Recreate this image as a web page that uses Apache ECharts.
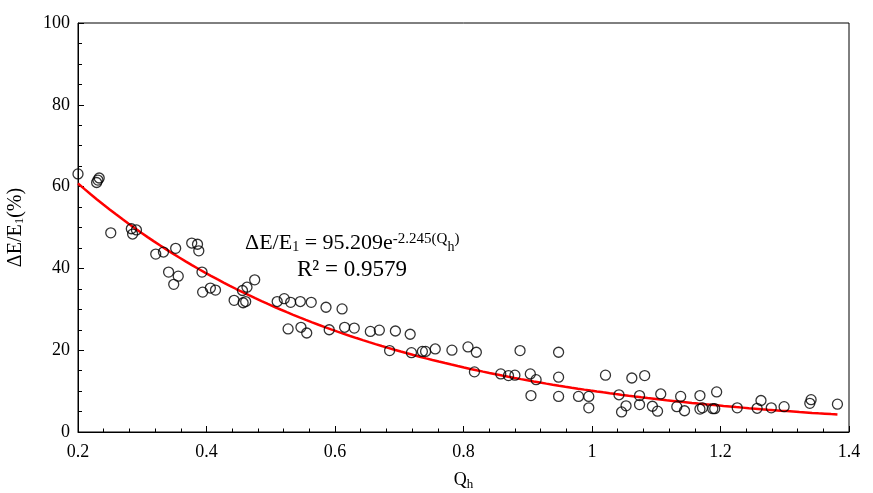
<!DOCTYPE html>
<html>
<head>
<meta charset="utf-8">
<script src="https://cdn.jsdelivr.net/npm/echarts@6/dist/echarts.min.js"></script>
<style>
html,body{margin:0;padding:0;background:#fff;}
#c{width:873px;height:493px;}
</style>
</head>
<body>
<div id="c"></div>
<script>
// Measured points (Qh, ΔE/E1 %)
const qh = [0.200,0.229,0.231,0.233,0.251,0.283,0.285,0.291,0.321,0.333,0.352,0.377,0.386,0.388,0.341,0.356,0.349,0.393,0.394,0.406,0.414,0.443,0.456,0.463,0.475,0.457,0.461,0.510,0.521,0.531,0.546,0.563,0.586,0.611,0.527,0.547,0.556,0.591,0.615,0.630,0.655,0.669,0.694,0.717,0.685,0.719,0.736,0.741,0.756,0.782,0.807,0.820,0.817,0.858,0.870,0.880,0.888,0.904,0.913,0.905,0.948,0.948,0.948,0.979,0.995,0.995,1.021,1.042,1.053,1.046,1.062,1.082,1.074,1.074,1.094,1.102,1.107,1.132,1.138,1.144,1.168,1.168,1.172,1.188,1.191,1.194,1.226,1.257,1.263,1.279,1.299,1.339,1.341,1.382];
const dE  = [63.1,61.0,61.6,62.1,48.7,49.7,48.4,49.4,43.5,44.0,44.9,46.2,45.9,44.3,39.1,38.1,36.1,39.1,34.2,35.2,34.7,32.2,34.6,35.4,37.2,31.6,31.9,31.9,32.6,31.7,31.9,31.7,30.5,30.1,25.2,25.6,24.2,25.0,25.6,25.4,24.6,24.9,24.7,23.9,19.9,19.4,19.7,19.7,20.3,20.0,20.8,19.5,14.7,14.2,13.8,13.9,19.9,14.2,12.8,8.9,19.5,13.4,8.7,8.7,8.7,5.9,13.9,9.1,6.4,4.9,13.2,13.8,8.9,6.7,6.3,5.1,9.3,6.2,8.7,5.2,8.9,5.6,5.9,5.7,5.7,9.8,5.9,5.8,7.7,5.9,6.2,7.0,7.9,6.8];
// Trendline coefficients as printed on the chart: y = A * e^(B*Qh)
const fitA = 95.209;
const fitB = -2.245;
const fitR2 = "0.9579";
const xTicks = [0.2,0.4,0.6,0.8,1,1.2,1.4];
const yTicks = [0,20,40,60,80,100];

const scatterData = qh.map((x,i)=>[x,dE[i]]);
const xMinData = Math.min(...qh), xMaxData = Math.max(...qh);
const fitData = [];
const nFit = 120;
for (let i=0;i<=nFit;i++){
  const x = xMinData + (xMaxData-xMinData)*i/nFit;
  fitData.push([x, fitA*Math.exp(fitB*x)]);
}

const serif = '"Liberation Serif","Times New Roman",serif';
const chart = echarts.init(document.getElementById('c'), null, {renderer:'canvas'});
chart.setOption({
  animation:false,
  backgroundColor:'#fff',
  grid:{left:78,right:24,top:23,bottom:61,show:true,borderColor:'#000',borderWidth:1,backgroundColor:'transparent',
        containLabel:false,outerBoundsMode:'none'},
  xAxis:{
    type:'value',min:0.2,max:1.4,interval:0.2,
    name:'Q{s|h}',nameLocation:'middle',nameGap:38,
    nameTextStyle:{fontFamily:serif,fontSize:18,color:'#000',
      rich:{s:{fontFamily:serif,fontSize:13,color:'#000',verticalAlign:'bottom',padding:[8,0,0,0]}}},
    axisLine:{show:true,lineStyle:{color:'#000',width:1}},
    axisTick:{show:true,inside:true,length:6,lineStyle:{color:'#000'}},
    minorTick:{show:true,splitNumber:5,length:3.5,lineStyle:{color:'#000'}},
    splitLine:{show:false},
    axisLabel:{fontFamily:serif,fontSize:18,color:'#000',margin:11,
      formatter:v=>{const t=xTicks.find(k=>Math.abs(k-v)<1e-6);return t===undefined?'':String(t);}}
  },
  yAxis:{
    type:'value',min:0,max:100,interval:20,
    name:'ΔE/E{s|1}(%)',nameLocation:'middle',nameGap:52,nameRotate:90,
    nameTextStyle:{fontFamily:serif,fontSize:20,color:'#000',
      rich:{s:{fontFamily:serif,fontSize:13,color:'#000',verticalAlign:'bottom',padding:[8,0,0,0]}}},
    axisLine:{show:true,lineStyle:{color:'#000',width:1}},
    axisTick:{show:true,inside:true,length:6,lineStyle:{color:'#000'}},
    minorTick:{show:true,splitNumber:4,length:4,lineStyle:{color:'#000'}},
    splitLine:{show:false},
    axisLabel:{fontFamily:serif,fontSize:18,color:'#000',margin:8,
      formatter:v=>{const t=yTicks.find(k=>Math.abs(k-v)<1e-6);return t===undefined?'':String(t);}}
  },
  series:[
    {type:'scatter',data:scatterData,symbol:'circle',symbolSize:10,
     itemStyle:{color:'rgba(255,255,255,0)',borderColor:'#000',borderWidth:1.3},z:3},
    {type:'line',data:fitData,showSymbol:false,smooth:false,
     lineStyle:{color:'#ff0000',width:2.5},z:2}
  ],
  graphic:[
    {type:'text',left:245,top:232,z:10,
     style:{text:'ΔE/E{sb|1} = '+String(fitA)+'e{sp|'+String(fitB)+'(Q}{sb2|h}{sp|)}',
       font:'22px '+serif,fill:'#000',
       rich:{
         sb:{fontFamily:serif,fontSize:14,fill:'#000',verticalAlign:'bottom',lineHeight:14},
         sp:{fontFamily:serif,fontSize:15,fill:'#000',verticalAlign:'top',lineHeight:15},
         sb2:{fontFamily:serif,fontSize:14,fill:'#000',verticalAlign:'bottom',lineHeight:14,padding:[6,0,0,0]}
       }}},
    {type:'text',left:297,top:258,z:10,
     style:{text:'R² = '+fitR2,font:'23px '+serif,fill:'#000'}}
  ]
});
</script>
</body>
</html>
